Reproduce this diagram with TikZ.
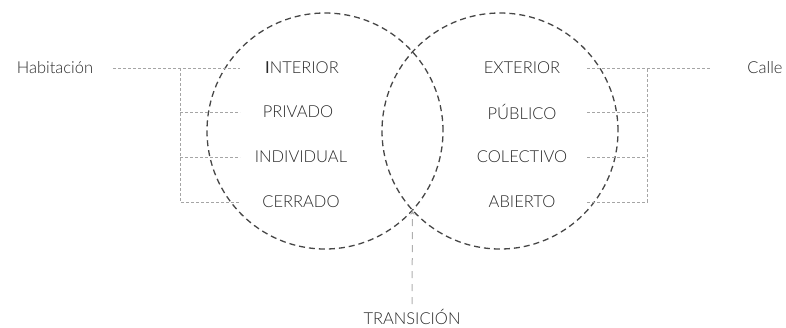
\documentclass[tikz,border=0pt]{standalone}
\usepackage{fontspec}
\setmainfont{Lato}[UprightFont=* Light, BoldFont=* Regular]
\usepackage{tikz}
\usetikzlibrary{arrows.meta, positioning, calc}
\definecolor{ringgray}{RGB}{70, 70, 70}
\definecolor{linkgray}{RGB}{165, 165, 165}
\definecolor{transgray}{RGB}{175, 175, 175}
\definecolor{textgray}{RGB}{40, 40, 40}
\tikzset{
  ring/.style={circle, draw=ringgray, line width=1.3pt, dash pattern=on 6pt off 4pt, minimum size=236pt, inner sep=0pt},
  word/.style={text=textgray, font=\fontsize{16.5}{18}\selectfont, inner sep=2pt},
  link/.style={linkgray, line width=0.8pt, dash pattern=on 3pt off 2pt},
  trans/.style={transgray, line width=1pt, dash pattern=on 7pt off 6pt}
}

\begin{document}
\begin{tikzpicture}[x=1pt, y=-1pt]
    \useasboundingbox (0,0) rectangle (786,327);
    % Circles
    \node[ring] (lring) at (325,131) {};
    \node[ring] (rring) at (500,131) {};
    \coordinate (cross) at (412.5,210);
    % Inner words
    \node[word] (int) at (302,68) {\textbf{I}NTERIOR};
    \node[word] (pri) at (298,112) {PRIVADO};
    \node[word] (ind) at (301,157) {INDIVIDUAL};
    \node[word] (cer) at (301,202) {CERRADO};
    \node[word] (ext) at (522,68) {EXTERIOR};
    \node[word] (pub) at (522,112) {PÚBLICO};
    \node[word] (col) at (522,157) {COLECTIVO};
    \node[word] (abi) at (522,202) {ABIERTO};
    % Outer words
    \node[word] (hab) at (55,68) {Habitación};
    \node[word] (cal) at (765,68) {Calle};
    \node[word] (tra) at (412,317) {TRANSICIÓN};
    % Left brackets
    \coordinate (lbus) at (180,0);
    \coordinate (lstop) at (240,0);
    \draw[link, shorten <=18pt] (hab.east) -- (hab.east -| lstop);
    \draw[link] (hab.east -| lbus) -- (cer.west -| lbus) -- (cer.west -| lstop);
    \draw[link] (pri.west -| lbus) -- (pri.west -| lstop);
    \draw[link] (ind.west -| lbus) -- (ind.west -| lstop);
    % Right brackets
    \coordinate (rbus) at (647,0);
    \coordinate (rstart) at (587,0);
    \draw[link, shorten >=35pt] (ext.east -| rstart) -- (cal.west);
    \draw[link] (abi.east -| rstart) -- (abi.east -| rbus) -- (ext.east -| rbus);
    \draw[link] (pub.east -| rstart) -- (pub.east -| rbus);
    \draw[link] (col.east -| rstart) -- (col.east -| rbus);
    % Transition arrow
    \draw[trans, -{Stealth[length=5pt, width=4pt]}, shorten <=3pt] (tra.north) -- (cross);
\end{tikzpicture}
\end{document}
